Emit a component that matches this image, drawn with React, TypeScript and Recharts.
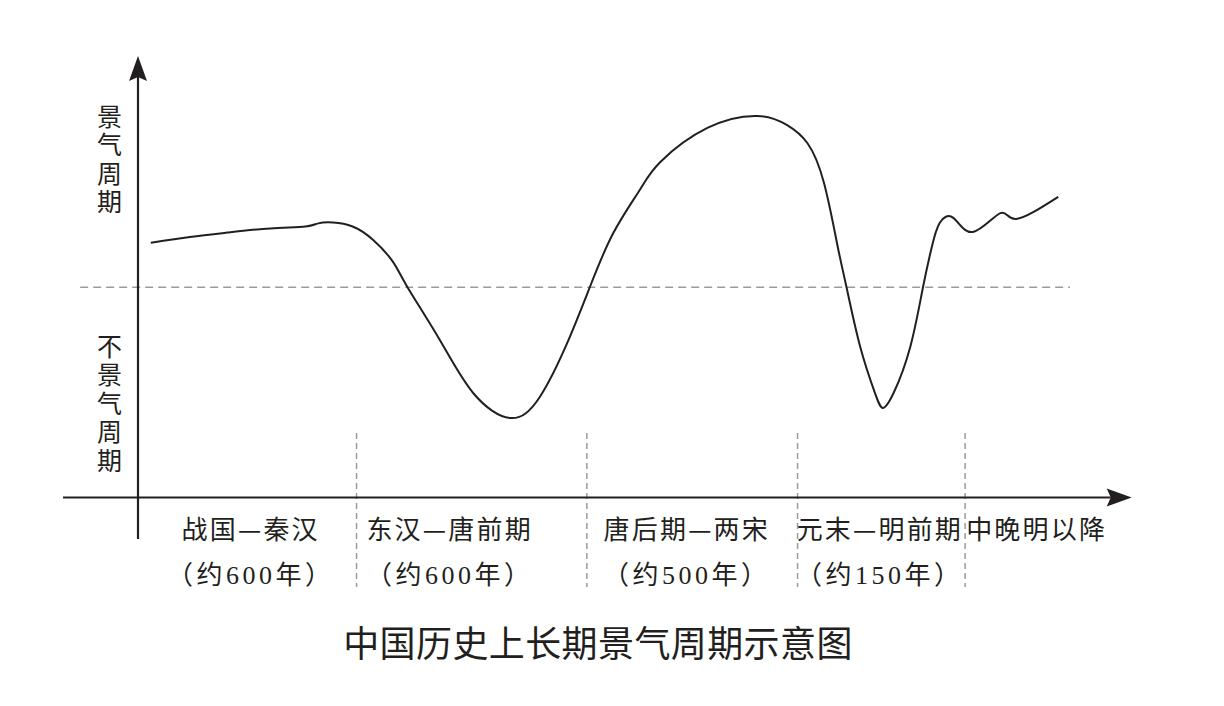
import { LineChart, Line, XAxis, YAxis, ReferenceLine } from 'recharts';

// curve: x is a 0-100 time index, v is the boom/slump level (0 = threshold)
const CURVE_X = [
  1.3, 5.3, 9.1, 13.5, 17.1, 18.4, 19.9, 21.9, 24.0, 26.0, 27.5, 30.8, 34.2, 38.0, 41.0, 43.8,
  46.1, 48.5, 51.2, 53.3, 58.1, 63.2, 66.2, 68.3, 70.0, 71.4, 72.3, 73.7, 75.2, 76.0, 77.1,
  78.8, 80.1, 81.0, 81.8, 83.2, 85.2, 88.0, 89.6, 93.9,
];
const CURVE_V = [
  21.2, 23.9, 26.0, 28.0, 28.9, 30.4, 30.8, 28.9, 22.5, 12.2, 0, -25.1, -50.3, -62.2, -52.2, -26.5,
  0, 25.8, 46.3, 59.6, 75.8, 81.5, 77.2, 68.6, 49.6, 19.3, 0, -28.4, -50.3, -57.4, -50.3,
  -28.4, 0, 19.2, 30.6, 33.0, 26.3, 35.3, 32.5, 43.0,
];

const PERIOD_NAMES = ['战国—秦汉', '东汉—唐前期', '唐后期—两宋', '元末—明前期', '中晚明以降'];
const PERIOD_SPANS = ['（约600年）', '（约600年）', '（约500年）', '（约150年）', ''];
const PERIOD_CENTERS = [11.5, 31.8, 56.0, 75.7, 91.7];
const DIVIDERS = [22.3, 45.8, 67.3, 84.4];

const BOOM_LABEL = '景气周期';
const SLUMP_LABEL = '不景气周期';
const TITLE = '中国历史上长期景气周期示意图';

// extents of the axes and guide lines, in data units
const X_AXIS_RANGE = [-7.65, 101.4];
const Y_AXIS_RANGE = [-119.7, 110];
const THRESHOLD_RANGE = [-5.9, 95.1];
const DIVIDER_RANGE = [-69.3, -142.6];

const data = CURVE_X.map((x, i) => ({ x, v: CURVE_V[i] }));

const INK = '#231f20';
const SANS = "'Noto Sans CJK SC', 'Noto Sans', sans-serif";
const SERIF = "'Liberation Serif', 'Noto Sans CJK SC', serif";

function ArrowLine(props: any) {
  const { x1, y1, x2, y2 } = props;
  const len = Math.hypot(x2 - x1, y2 - y1);
  const ux = (x2 - x1) / len;
  const uy = (y2 - y1) / len;
  const L = 25;
  const W = 9;
  const bx = x2 - ux * L;
  const by = y2 - uy * L;
  const nx = x2 - ux * (L - 4);
  const ny = y2 - uy * (L - 4);
  return (
    <g>
      <line x1={x1} y1={y1} x2={nx} y2={ny} stroke={INK} strokeWidth={2.2} />
      <path
        d={`M${x2},${y2} L${bx - uy * W},${by + ux * W} L${nx},${ny} L${bx + uy * W},${by - ux * W} Z`}
        fill={INK}
      />
    </g>
  );
}

function PeriodTick(props: any) {
  const { x, y, payload } = props;
  const i = PERIOD_CENTERS.indexOf(payload.value);
  return (
    <g>
      <text
        x={x}
        y={y + 29.5}
        textAnchor="middle"
        dominantBaseline="central"
        fontFamily={SANS}
        fontSize={26}
        letterSpacing={2.2}
        fill={INK}
      >
        {PERIOD_NAMES[i]}
      </text>
      {PERIOD_SPANS[i] && (
        <text
          x={x}
          y={y + 77.5}
          textAnchor="middle"
          dominantBaseline="central"
          fontFamily={SERIF}
          fontSize={26}
          letterSpacing={3.5}
          fill={INK}
        >
          {PERIOD_SPANS[i]}
        </text>
      )}
    </g>
  );
}

function VerticalLabel({ text, top }: { text: string; top: number }) {
  return (
    <text
      x={109.5}
      y={top - 12.5}
      writingMode="vertical-rl"
      textAnchor="start"
      dominantBaseline="central"
      fontFamily={SANS}
      fontSize={25}
      letterSpacing={3.5}
      fill={INK}
    >
      {text}
    </text>
  );
}

export default function App() {
  return (
    <div style={{ position: 'absolute', left: 0, top: 0, width: 1224, height: 706, background: '#fff' }}>
      <LineChart
        width={1224}
        height={706}
        data={data}
        margin={{ top: 56, right: 106, bottom: 178.5, left: 138 }}
      >
        <XAxis
          dataKey="x"
          type="number"
          domain={[0, 100]}
          ticks={PERIOD_CENTERS}
          interval={0}
          axisLine={false}
          tickLine={false}
          tickSize={0}
          tickMargin={0}
          height={30}
          tick={PeriodTick}
        />
        <YAxis type="number" domain={[-100, 110]} hide />
        <ReferenceLine
          segment={[{ x: THRESHOLD_RANGE[0], y: 0 }, { x: THRESHOLD_RANGE[1], y: 0 }]}
          stroke="#9b9b9b"
          strokeWidth={1.6}
          strokeDasharray="8 5"
          ifOverflow="visible"
        />
        {DIVIDERS.map((d) => (
          <ReferenceLine
            key={d}
            segment={[{ x: d, y: DIVIDER_RANGE[0] }, { x: d, y: DIVIDER_RANGE[1] }]}
            stroke="#9b9b9b"
            strokeWidth={1.5}
            strokeDasharray="6 4"
            ifOverflow="visible"
          />
        ))}
        <ReferenceLine
          segment={[{ x: X_AXIS_RANGE[0], y: -100 }, { x: X_AXIS_RANGE[1], y: -100 }]}
          ifOverflow="visible"
          shape={ArrowLine}
        />
        <ReferenceLine
          segment={[{ x: 0, y: Y_AXIS_RANGE[0] }, { x: 0, y: Y_AXIS_RANGE[1] }]}
          ifOverflow="visible"
          shape={ArrowLine}
        />
        <Line
          type="natural"
          dataKey="v"
          stroke={INK}
          strokeWidth={2}
          dot={false}
          activeDot={false}
          isAnimationActive={false}
        />
        <VerticalLabel text={BOOM_LABEL} top={116} />
        <VerticalLabel text={SLUMP_LABEL} top={346} />
        <text
          x={598}
          y={641}
          textAnchor="middle"
          dominantBaseline="central"
          fontFamily={SANS}
          fontSize={36}
          letterSpacing={0.4}
          fill={INK}
        >
          {TITLE}
        </text>
      </LineChart>
    </div>
  );
}
